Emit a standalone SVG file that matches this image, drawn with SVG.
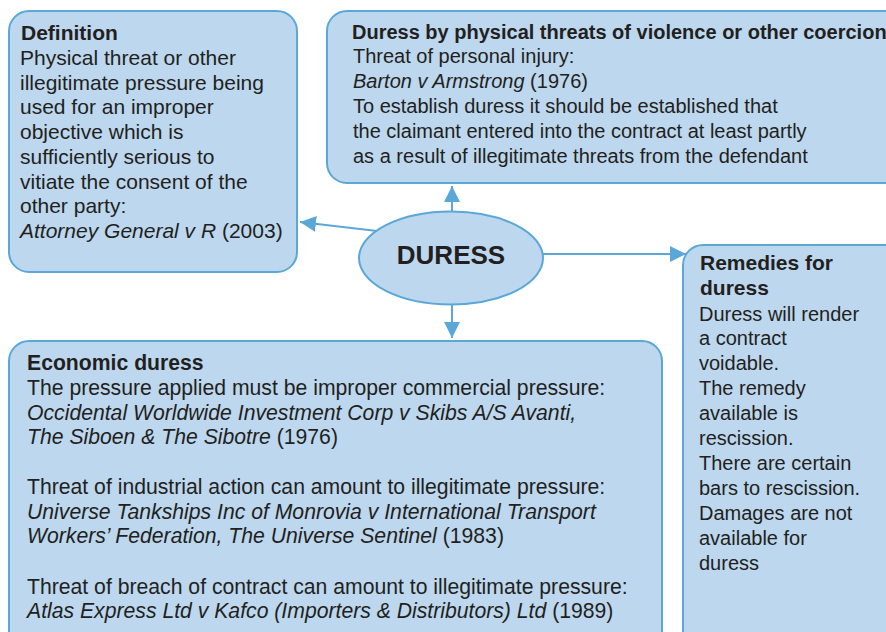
<svg xmlns="http://www.w3.org/2000/svg" width="886" height="632" viewBox="0 0 886 632">
  <style>
    .box { fill: #bcd7ee; stroke: #5ba8d8; stroke-width: 2; }
    .t { font-family: "Liberation Sans", Arial, sans-serif; fill: #231f20; }
    .h { font-weight: bold; }
    .i { font-style: italic; }
    .conn { stroke: #5ba8d8; stroke-width: 2; fill: none; }
  </style>
  <defs>
    <marker id="arrow" markerUnits="userSpaceOnUse" markerWidth="16" markerHeight="16" refX="16" refY="8" orient="auto">
      <path d="M0,0 L16,8 L0,16 z" fill="#5ba8d8"/>
    </marker>
  </defs>
  <rect width="886" height="632" fill="#ffffff"/>

  <!-- connectors from the central ellipse -->
  <g id="connectors">
    <line class="conn" x1="452" y1="212" x2="452" y2="186" marker-end="url(#arrow)"/>
    <line class="conn" x1="377" y1="231" x2="300" y2="222" marker-end="url(#arrow)"/>
    <line class="conn" x1="543" y1="254" x2="686" y2="254" marker-end="url(#arrow)"/>
    <line class="conn" x1="452" y1="305" x2="452" y2="338" marker-end="url(#arrow)"/>
  </g>

  <g id="definition">
    <rect class="box" x="9" y="11" width="288" height="261" rx="20"/>
    <text class="t" style="font-size:21px">
      <tspan class="h" x="21" y="40">Definition</tspan>
      <tspan x="20" y="65">Physical threat or other</tspan>
      <tspan x="20" y="89.7">illegitimate pressure being</tspan>
      <tspan x="20" y="114.4">used for an improper</tspan>
      <tspan x="20" y="139.1">objective which is</tspan>
      <tspan x="20" y="163.8">sufficiently serious to</tspan>
      <tspan x="20" y="188.5">vitiate the consent of the</tspan>
      <tspan x="20" y="213.2">other party:</tspan>
      <tspan x="20" y="238"><tspan class="i">Attorney General v R</tspan> (2003)</tspan>
    </text>
  </g>

  <g id="physical">
    <rect class="box" x="327" y="11" width="580" height="172" rx="20"/>
    <text class="t" style="font-size:20px">
      <tspan class="h" x="352" y="39">Duress by physical threats of violence or other coercion</tspan>
      <tspan x="353" y="63">Threat of personal injury:</tspan>
      <tspan x="353" y="88"><tspan class="i">Barton v Armstrong</tspan> (1976)</tspan>
      <tspan x="353" y="113">To establish duress it should be established that</tspan>
      <tspan x="353" y="138">the claimant entered into the contract at least partly</tspan>
      <tspan x="353" y="163">as a result of illegitimate threats from the defendant</tspan>
    </text>
  </g>

  <g id="duress">
    <ellipse class="box" cx="451" cy="258" rx="92" ry="46.5"/>
    <text class="t h" x="451" y="264" text-anchor="middle" style="font-size:26px">DURESS</text>
  </g>

  <g id="remedies">
    <rect class="box" x="683" y="245" width="230" height="420" rx="20"/>
    <text class="t" style="font-size:20px">
      <tspan class="h" x="700" y="270" style="font-size:21px">Remedies for</tspan>
      <tspan class="h" x="700" y="295" style="font-size:21px">duress</tspan>
      <tspan x="699" y="320.5">Duress will render</tspan>
      <tspan x="699" y="345.4">a contract</tspan>
      <tspan x="699" y="370.3">voidable.</tspan>
      <tspan x="699" y="395.2">The remedy</tspan>
      <tspan x="699" y="420.1">available is</tspan>
      <tspan x="699" y="445">rescission.</tspan>
      <tspan x="699" y="469.9">There are certain</tspan>
      <tspan x="699" y="494.8">bars to rescission.</tspan>
      <tspan x="699" y="519.7">Damages are not</tspan>
      <tspan x="699" y="544.6">available for</tspan>
      <tspan x="699" y="569.5">duress</tspan>
    </text>
  </g>

  <g id="economic">
    <rect class="box" x="9" y="341" width="653" height="330" rx="20"/>
    <text class="t" style="font-size:21.2px">
      <tspan class="h" x="27" y="370">Economic duress</tspan>
      <tspan x="27" y="395">The pressure applied must be improper commercial pressure:</tspan>
      <tspan x="27" y="419.5" class="i">Occidental Worldwide Investment Corp v Skibs A/S Avanti,</tspan>
      <tspan x="27" y="444"><tspan class="i">The Siboen &amp; The Sibotre</tspan> (1976)</tspan>
      <tspan x="27" y="494">Threat of industrial action can amount to illegitimate pressure:</tspan>
      <tspan x="27" y="518.5" class="i">Universe Tankships Inc of Monrovia v International Transport</tspan>
      <tspan x="27" y="543"><tspan class="i">Workers’ Federation, The Universe Sentinel</tspan> (1983)</tspan>
      <tspan x="27" y="593.5">Threat of breach of contract can amount to illegitimate pressure:</tspan>
      <tspan x="27" y="618"><tspan class="i">Atlas Express Ltd v Kafco (Importers &amp; Distributors) Ltd</tspan> (1989)</tspan>
    </text>
  </g>
</svg>
